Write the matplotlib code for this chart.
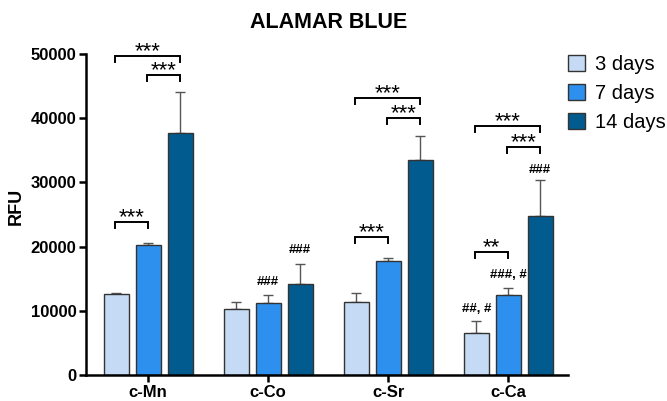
import numpy as np
import matplotlib
matplotlib.use("Agg")
from matplotlib import pyplot as plt

plt.rcParams['font.family'] = ['Liberation Sans', 'DejaVu Sans']

# data
groups = ["c-Mn", "c-Co", "c-Sr", "c-Ca"]
series = ["3 days", "7 days", "14 days"]
means_3d = [12600, 10250, 11400, 6550]
means_7d = [20250, 11250, 17750, 12450]
means_14d = [37650, 14200, 33550, 24700]
err_3d = [100, 1150, 1300, 1850]
err_7d = [350, 1150, 500, 1100]
err_14d = [6450, 3050, 3650, 5700]
colors = ["#c5daf5", "#2e90ee", "#015b8f"]

# significance brackets: (group, bar_a, bar_b, height, label)
brackets = [
    (0, 0, 2, 49650, "***"), (0, 1, 2, 46650, "***"), (0, 0, 1, 23850, "***"),
    (2, 0, 2, 43100, "***"), (2, 1, 2, 40000, "***"), (2, 0, 1, 21450, "***"),
    (3, 0, 2, 38750, "***"), (3, 1, 2, 35500, "***"), (3, 0, 1, 19150, "**"),
]
# hash labels: (group, bar, y, text)
hashes = [
    (1, 1, 14550, "###"), (1, 2, 19500, "###"),
    (3, 0, 10300, "##, #"), (3, 1, 15500, "###, #"), (3, 2, 31850, "###"),
]

fig = plt.figure(figsize=(6.67, 4.01), dpi=100)
ax = fig.add_axes([0.129, 0.065, 0.723, 0.8005])

x = np.arange(len(groups))
step = 0.267
width = 0.208
all_means = [means_3d, means_7d, means_14d]
all_errs = [err_3d, err_7d, err_14d]
for i in range(3):
    pos = x + (i - 1) * step
    ax.bar(pos, all_means[i], width, color=colors[i], edgecolor="#333333",
           linewidth=1.0, label=series[i], zorder=2)
    ax.errorbar(pos, all_means[i], yerr=[np.zeros(4), all_errs[i]], fmt="none",
                ecolor="#555555", elinewidth=1.0, capsize=3.7, capthick=1.0, zorder=1)

tick_h = 900
for g, a, b, h, lab in brackets:
    xa = g + (a - 1) * step - 0.01
    xb = g + (b - 1) * step
    ax.plot([xa, xa, xb, xb], [h - tick_h, h, h, h - tick_h], color="black",
            lw=1.4, clip_on=False, solid_joinstyle="miter")
    ax.text((xa + xb) / 2, h - 170, lab, ha="center", va="baseline", fontsize=16,
            clip_on=False)

for g, b, y, lab in hashes:
    ax.text(g + (b - 1) * step, y, lab, ha="center", va="center", fontsize=9.5,
            fontweight="bold")

ax.set_xlim(-0.517, 3.5)
ax.set_ylim(0, 50000)
ax.set_yticks([0, 10000, 20000, 30000, 40000, 50000])
ax.set_xticks(x)
ax.set_xticklabels(groups, fontsize=12, fontweight="bold")
for t in ax.get_yticklabels():
    t.set_fontsize(12)
    t.set_fontweight("bold")
ax.spines["top"].set_visible(False)
ax.spines["right"].set_visible(False)
ax.spines["left"].set_linewidth(1.8)
ax.spines["bottom"].set_linewidth(1.8)
ax.tick_params(width=1.8, length=5, direction="out", pad=2)
ax.set_ylabel("RFU", fontsize=13, fontweight="bold")
ax.yaxis.set_label_coords(-0.127, 0.524)

fig.text(0.492, 0.944, "ALAMAR BLUE", ha="center", va="center", fontsize=15.5,
         fontweight="bold")

leg = ax.legend(loc="upper left", bbox_to_anchor=(0.961, 1.053), frameon=False,
                fontsize=14.5, handlelength=0.85, handleheight=0.85,
                labelspacing=0.5, handletextpad=0.5, borderaxespad=0.5)

plt.savefig("out.png", dpi=100)
